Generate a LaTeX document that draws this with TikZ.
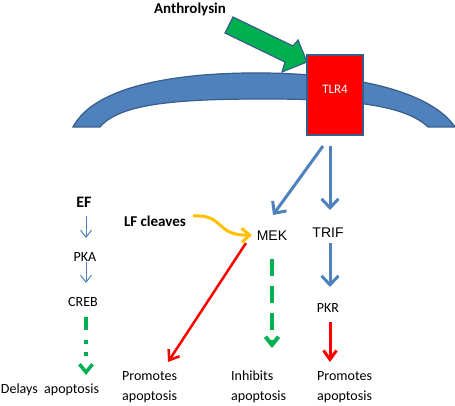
\documentclass[tikz,border=0pt]{standalone}
\usepackage{fontspec}
\setmainfont{Carlito}
\newfontfamily\arialf{Liberation Sans}
\usetikzlibrary{arrows.meta,calc}
\definecolor{obl}{HTML}{4F81BD}
\definecolor{obd}{HTML}{385D8A}
\definecolor{ogr}{HTML}{00B050}
\definecolor{oor}{HTML}{FFC000}
\begin{document}
\begin{tikzpicture}[x=1pt,y=-1pt,
  lbl/.style={inner sep=0pt, font=\fontsize{14}{20}\selectfont},
  blbl/.style={inner sep=0pt, font=\fontsize{15}{18}\selectfont\bfseries},
  albl/.style={inner sep=0pt, font=\fontsize{14}{18}\selectfont\arialf},
  bluearr/.style={draw=obl, line width=3pt, -{Straight Barb[length=9pt,width=17pt]}},
  thinarr/.style={draw=obl, line width=1pt, -{Straight Barb[length=7pt,width=11pt]}},
  redarr/.style={draw=red, line width=2.5pt, -{Straight Barb[length=9pt,width=13pt]}},
  greenarr/.style={draw=ogr, line width=4pt, -{Straight Barb[length=8pt,width=13pt]}},
  orangearr/.style={draw=oor, line width=3pt, -{Straight Barb[length=8pt,width=14pt]}}]
\useasboundingbox (0,0) rectangle (455,406);
% membrane
\draw[fill=obl, draw=obd, line width=1.2pt]
  (73,127) .. controls (95,85) and (180,72) .. (265,73)
  .. controls (350,74) and (430,90) .. (455,127)
  -- (428,127) .. controls (405,105) and (350,99) .. (265,99)
  .. controls (180,99) and (120,103) .. (100,127) -- cycle;
% TLR4
\node[draw=obd, fill=red, line width=1.2pt, minimum width=56pt, minimum height=80pt, inner sep=0pt] (tlr) at (335,95) {};
\node[lbl, font=\fontsize{13}{16}\selectfont, text=white] (tlrt) at (335,89) {TLR4};
% Anthrolysin block arrow
\node[blbl] (anth) at (190,9) {Anthrolysin};
\draw[fill=ogr, draw=obd, line width=1.2pt]
  (233,17) -- (293,46) -- (298,40) -- (307,62) -- (282,72) -- (285,62) -- (225,33) -- cycle;
% nodes
\node[blbl, font=\fontsize{16}{18}\selectfont\bfseries] (ef) at (84,202) {EF};
\node[lbl] (pka) at (85,257) {PKA};
\node[lbl] (creb) at (83,302) {CREB};
\node[lbl] (delays) at (50,390) {Delays\ \ apoptosis};
\node[blbl] (lf) at (155,221) {LF cleaves};
\node[albl] (mek) at (272,236) {MEK};
\node[albl] (trif) at (328,233) {TRIF};
\node[lbl] (pkr) at (328,308) {PKR};
\node[lbl, anchor=west, align=left] (prom1) at (122,387) {Promotes\\apoptosis};
\node[lbl, anchor=west, align=left] (inhib) at (231,387) {Inhibits\\apoptosis};
\node[lbl, anchor=west, align=left] (prom2) at (317,387) {Promotes\\apoptosis};
% connectors
\draw[bluearr] ($(tlr)+(-12,51)$) -- ($(mek)+(1,-21)$);
\draw[bluearr] ($(tlr)+(-5,51)$) -- ($(trif)+(2,-23)$);
\draw[bluearr] ($(trif)+(2,10)$) -- ($(pkr)+(2,-21)$);
\draw[redarr, line width=3pt] ($(pkr)+(2,14)$) -- ($(prom2.west)+(13,-25)$);
\draw[redarr] ($(mek)+(-26,7)$) -- ($(prom1.west)+(46,-25)$);
\draw[greenarr, dash pattern=on 17pt off 10pt] ($(mek)+(0,23)$) -- ($(inhib.west)+(41,-39)$);
\draw[thinarr] ($(ef)+(2,14)$) -- ($(pka)+(1,-19)$);
\draw[thinarr] ($(pka)+(1,5)$) -- ($(creb)+(3,-19)$);
\draw[greenarr, line width=3.5pt, dash pattern=on 13pt off 10pt on 4pt off 8pt on 4pt off 20pt] ($(creb)+(3,15)$) -- ($(delays)+(36,-15)$);
\draw[orangearr] ($(lf)+(38,-5)$) .. controls ($(lf)+(70,-7)$) and ($(lf)+(60,15)$) .. ($(mek)+(-20,-1)$);
\end{tikzpicture}
\end{document}
